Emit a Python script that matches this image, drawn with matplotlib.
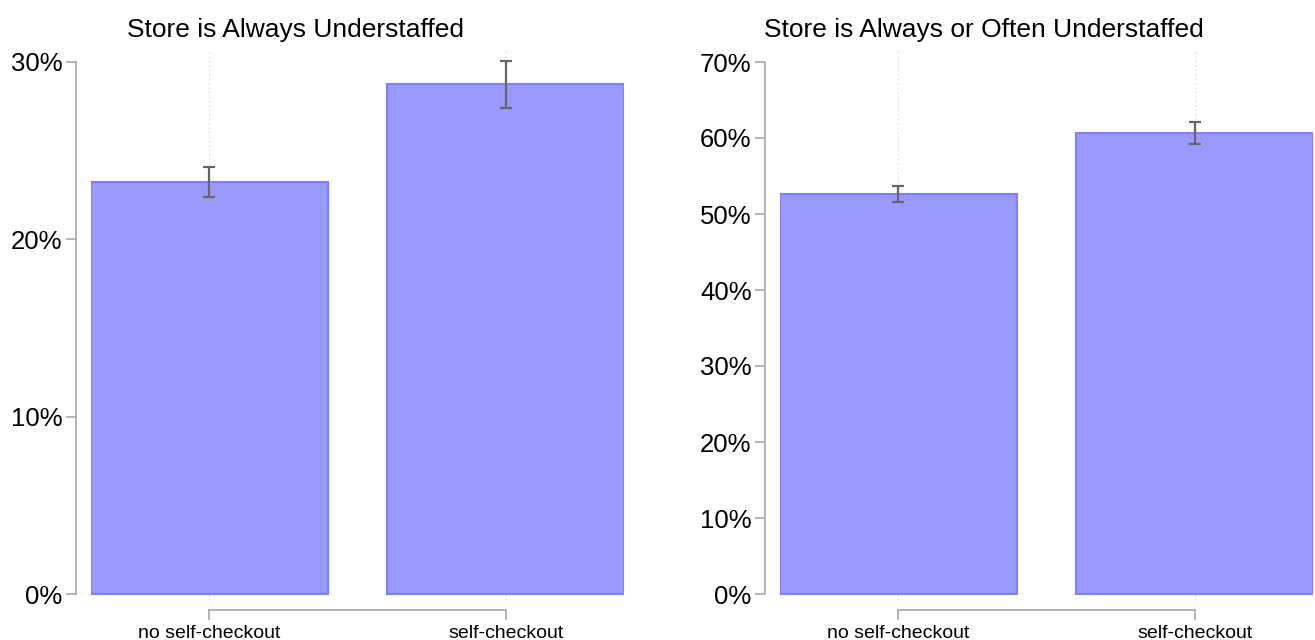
import numpy as np
import matplotlib.pyplot as plt
from matplotlib.ticker import PercentFormatter

plt.rcParams["font.family"] = ["Liberation Sans", "DejaVu Sans"]

categories = ["no self-checkout", "self-checkout"]

titles = ["Store is Always Understaffed", "Store is Always or Often Understaffed"]

# share of workers reporting understaffing, with standard-error bars
always_mean = [0.2322, 0.2874]
always_err = [0.0084, 0.0131]
often_mean = [0.5259, 0.6066]
often_err = [0.0103, 0.0149]

y_max = [0.30, 0.70]
y_step = [0.10, 0.10]

W, H = 1315, 640
fig = plt.figure(figsize=(W / 100, H / 100), dpi=100)

bar_fill = "#9999ff"
bar_edge = "#8080ff"
frame_grey = "#a8a8a8"


def panel(left_px, means, errs, title, top):
    # axes in pixel units: bars fill the x range, frame spines pushed outward
    bottom_px, top_px = 604, 50
    ax = fig.add_axes([left_px / W, 1 - bottom_px / H, 533 / W, (bottom_px - top_px) / H])
    x = np.arange(len(means))
    per_px = top / 532.0
    ax.set_ylim(-10 * per_px, top + 12 * per_px)
    ax.set_xlim(-0.4, len(means) - 0.6)

    for xi in x:
        ax.axvline(xi, color="#c8c8c8", linestyle=(0, (1, 3)), linewidth=0.8, zorder=0)

    ax.bar(x, means, width=0.8, color=bar_fill, edgecolor=bar_edge, linewidth=1.5, zorder=2)
    ax.errorbar(x, means, yerr=errs, fmt="none", ecolor="#666666", elinewidth=1.6,
                capsize=4, capthick=1.6, zorder=3)

    ax.spines["top"].set_visible(False)
    ax.spines["right"].set_visible(False)
    ax.spines["left"].set_position(("outward", 10.5))
    ax.spines["bottom"].set_position(("outward", 4))
    ax.spines["left"].set_bounds(0, top)
    ax.spines["bottom"].set_bounds(x[0], x[-1])
    for s in ("left", "bottom"):
        ax.spines[s].set_color(frame_grey)
        ax.spines[s].set_linewidth(1.2)

    ax.set_yticks(np.arange(0, top + 1e-9, 0.10))
    ax.yaxis.set_major_formatter(PercentFormatter(1.0, decimals=0))
    ax.set_xticks(x)
    ax.set_xticklabels(categories)
    ax.tick_params(axis="y", length=7, width=1.2, color=frame_grey, labelsize=18.5, pad=3)
    ax.tick_params(axis="x", length=7, width=1.2, color=frame_grey, labelsize=14, pad=4)
    ax.set_facecolor("none")

    ax.text(0.383, (bottom_px - 37) / (bottom_px - top_px), title, transform=ax.transAxes,
            ha="center", va="baseline", fontsize=19)
    return ax


panel(91, always_mean, always_err, titles[0], y_max[0])
panel(780, often_mean, often_err, titles[1], y_max[1])

fig.savefig("out.png", dpi=100)
